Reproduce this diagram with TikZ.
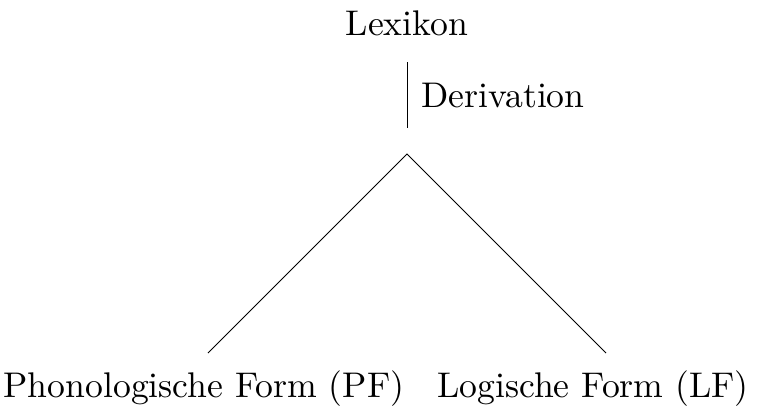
\documentclass[tikz,border=0pt]{standalone}
\usetikzlibrary{positioning}

\begin{document}
\begin{tikzpicture}[x=0.3pt,y=-0.3pt,line width=0.3pt,
  every node/.style={inner sep=0pt,font=\fontsize{10.7}{13}\selectfont}]
\useasboundingbox (0,0) rectangle (757,407);
\node[anchor=base](lex) at (407,35) {Lexikon};
\coordinate (d1) at (407,62);
\coordinate (d2) at (407,128);
\node[anchor=base west](der) at (421,107) {Derivation};
\coordinate (apex) at (407,154);
\coordinate (pfend) at (208,353);
\coordinate (lfend) at (606,353);
\node[anchor=base](pf) at (204,397) {Phonologische Form (PF)};
\node[anchor=base](lf) at (593,397) {Logische Form (LF)};

\draw (d1) -- (d2);
\draw (pfend) -- (apex) -- (lfend);
\end{tikzpicture}
\end{document}
